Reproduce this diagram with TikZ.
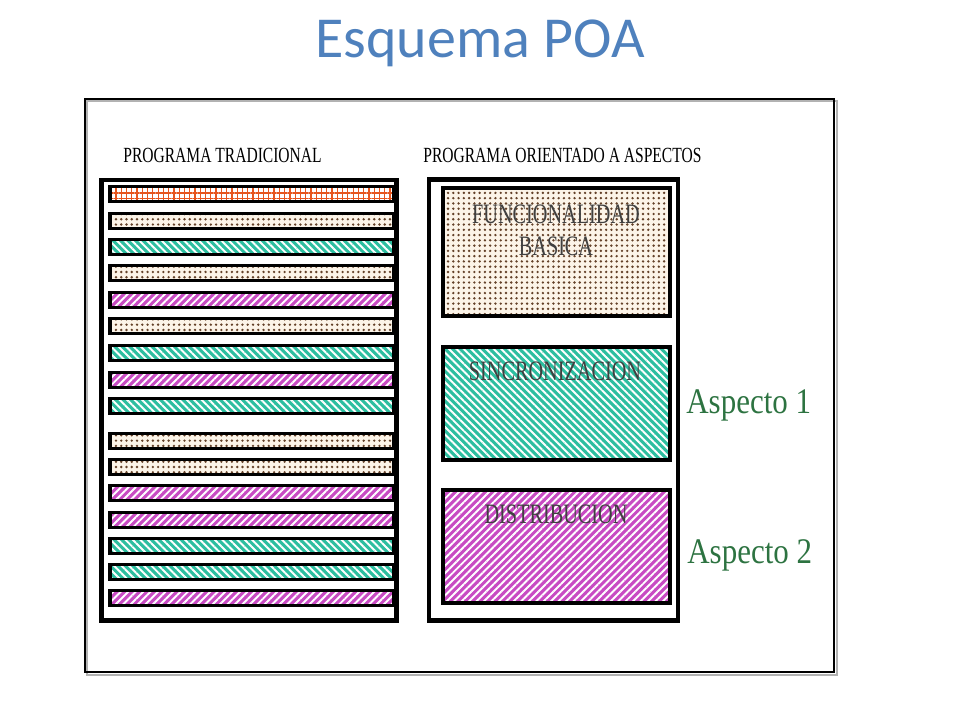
\documentclass[tikz,border=0pt]{standalone}
\usepackage{fontspec}
\setmainfont{Liberation Serif}
\newfontfamily\titlefont{Carlito}
\newfontfamily\narrowfont[FakeStretch=0.72]{Liberation Serif}
\newfontfamily\aspectfont[FakeStretch=0.86]{Liberation Serif}
\usetikzlibrary{patterns.meta}

\definecolor{titleblue}{RGB}{79,129,189}
\definecolor{tealfill}{RGB}{45,190,160}
\definecolor{magfill}{RGB}{200,75,195}
\definecolor{dotbrown}{RGB}{100,65,40}
\definecolor{creamfill}{RGB}{252,244,232}
\definecolor{gridorange}{RGB}{230,85,30}
\definecolor{aspectgreen}{RGB}{45,115,65}

\begin{document}
\begin{tikzpicture}[x=0.02cm,y=-0.02cm,
	frame/.style={line width=2.8pt},
	strip/.style={line width=2.2pt},
	bigbox/.style={line width=2.8pt},
	gridfill/.style={preaction={fill=white},pattern={Hatch[distance=3pt,line width=0.7pt]},pattern color=gridorange},
	dotfill/.style={preaction={fill=creamfill},pattern={Dots[distance=3pt,radius=0.75pt]},pattern color=dotbrown},
	tealfill/.style={preaction={fill=tealfill},pattern={Lines[angle=-45,distance=3pt,line width=1.1pt]},pattern color=white},
	magfill/.style={preaction={fill=magfill},pattern={Lines[angle=45,distance=3pt,line width=1.1pt]},pattern color=white},
	head/.style={font=\narrowfont\fontsize{12.3}{14}\selectfont,anchor=base west,inner sep=0pt},
	boxtext/.style={font=\narrowfont\fontsize{16}{19}\selectfont,text=black!75,anchor=base},
	aspect/.style={font=\aspectfont\fontsize{20.5}{24}\selectfont,text=aspectgreen,anchor=base west,inner sep=0pt}]
	\useasboundingbox (0,0) rectangle (960,720);
	
	\node[font=\titlefont\fontsize{33}{36}\selectfont,text=titleblue,anchor=base] (title) at (480,57) {Esquema POA};
	
	\draw[gray!60,line width=1pt] (87,101) rectangle (837,675);
	\draw[line width=1.4pt] (85,99) rectangle (834,672);
	
	\node[head] (tradhead) at (123,162) {PROGRAMA TRADICIONAL};
	\node[head] (aophead) at (423,162) {PROGRAMA ORIENTADO A ASPECTOS};
	
	% programa tradicional
	\draw[frame] (101.5,180) rectangle (396.5,620.5);
	\foreach \y/\k in {194/gridfill,221/dotfill,247/tealfill,273/dotfill,300/magfill,326/dotfill,353/tealfill,380/magfill,406/tealfill,441/dotfill,467/dotfill,493/magfill,520/magfill,546/tealfill,572/tealfill,598/magfill}
		\draw[strip,\k] (110,\y-7.5) rectangle (394,\y+7.5);
	
	% programa orientado a aspectos
	\draw[frame] (429,179.5) rectangle (678,620.5);
	\draw[bigbox,dotfill] (443,188) rectangle (670,316);
	\draw[bigbox,tealfill] (443,347) rectangle (670,460);
	\draw[bigbox,magfill] (443,490) rectangle (670,603);
	
	\node[boxtext] (funtxt) at (556,223) {FUNCIONALIDAD};
	\node[boxtext] (bastxt) at (556,255) {BASICA};
	\node[boxtext] (sinctxt) at (555,380) {SINCRONIZACION};
	\node[boxtext] (disttxt) at (556,523) {DISTRIBUCION};
	
	\node[aspect] (asp1) at (686,413) {Aspecto 1};
	\node[aspect] (asp2) at (687,563) {Aspecto 2};
\end{tikzpicture}
\end{document}
